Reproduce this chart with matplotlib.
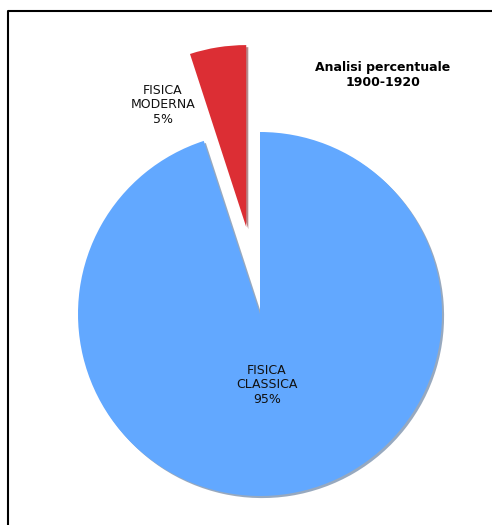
import matplotlib.pyplot as plt

# dati
categorie = ['FISICA\nMODERNA', 'FISICA\nCLASSICA']
percentuali = [5, 95]
colori = ['#DC2E34', '#62A8FF']
esplodi = [88, 0]  # in unità dati (pixel)
titolo = 'Analisi percentuale\n1900-1920'

fig = plt.figure(figsize=(4.92, 5.25), dpi=100)
ax = fig.add_axes([0, 0, 1, 1])

# cornice (bordo sinistro e superiore visibili)
ax.plot([8, 8, 500], [-10, 514, 514], color='black', lw=1.5, solid_capstyle='butt')

wedges, _ = ax.pie(percentuali, colors=colori, explode=esplodi, startangle=90,
                   radius=182, center=(260, 211), frame=True,
                   shadow={'ox': 1.5, 'oy': -1.5, 'shade': 0.5},
                   wedgeprops={'linewidth': 0})
ax.set_xlim(0, 492)
ax.set_ylim(0, 525)
ax.set_aspect('equal')
ax.axis('off')

# etichette
pos_etichette = [(163, 420), (267, 140)]
for cat, p, (x, y) in zip(categorie, percentuali, pos_etichette):
    ax.text(x, y, f'{cat}\n{p}%', ha='center', va='center', fontsize=9,
            family='DejaVu Sans', color='#111111', linespacing=1.15)

ax.text(383, 450, titolo, ha='center', va='center', fontsize=9,
        fontweight='bold', family='DejaVu Sans', linespacing=1.2)

fig.savefig('out.png', dpi=100)
